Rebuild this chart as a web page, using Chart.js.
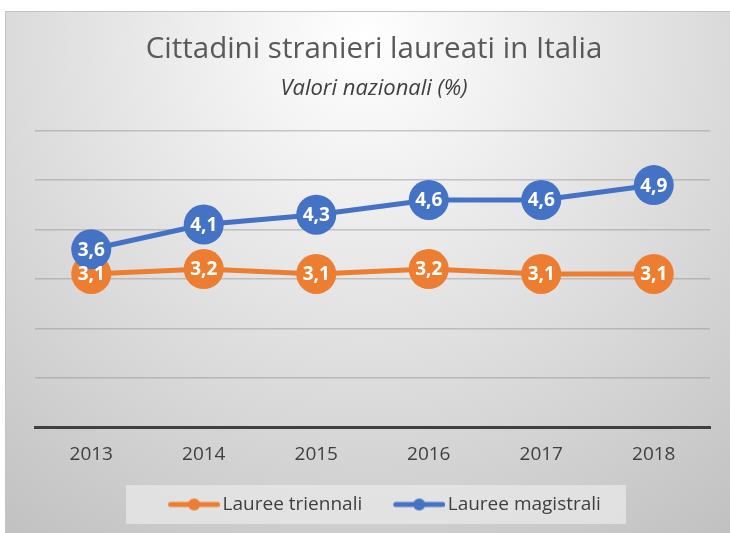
<!DOCTYPE html>
<html><head><meta charset="utf-8">
<script src="https://cdn.jsdelivr.net/npm/chart.js@4"></script>
<style>html,body{margin:0;padding:0;background:#fff;}#c{display:block;}</style>
</head><body>
<canvas id="c" width="730" height="533"></canvas>
<script>
const categories = ['2013', '2014', '2015', '2016', '2017', '2018'];
const laureeTriennali = [3.1, 3.2, 3.1, 3.2, 3.1, 3.1];
const laureeMagistrali = [3.6, 4.1, 4.3, 4.6, 4.6, 4.9];
const seriesNames = ['Lauree triennali', 'Lauree magistrali'];
const yTicks = [0, 1, 2, 3, 4, 5, 6];
const titleText = 'Cittadini stranieri laureati in Italia';
const subtitleText = 'Valori nazionali (%)';

const ORANGE = '#ED7D31';
const BLUE = '#4472C4';
const FONT = '"Open Sans"';

function legendImage(color) {
  const c = document.createElement('canvas');
  c.width = 80; c.height = 14;
  const x = c.getContext('2d');
  x.strokeStyle = color; x.lineWidth = 5; x.lineCap = 'round';
  x.beginPath(); x.moveTo(30.5, 7); x.lineTo(77.5, 7); x.stroke();
  x.fillStyle = color;
  x.beginPath(); x.arc(54, 7, 6, 0, Math.PI * 2); x.fill();
  return c;
}

const backgroundPlugin = {
  id: 'bg',
  beforeDraw(chart) {
    const ctx = chart.ctx;
    const W = chart.width, H = chart.height;
    ctx.save();
    ctx.fillStyle = '#ffffff';
    ctx.fillRect(0, 0, W, H);
    const g = ctx.createRadialGradient(W / 2, 40, 0, W / 2, 40, 650);
    g.addColorStop(0, '#ffffff');
    g.addColorStop(1, '#bdbdbd');
    ctx.fillStyle = g;
    ctx.fillRect(5, 11, W - 5, H - 11);
    ctx.strokeStyle = '#c4c4c4';
    ctx.lineWidth = 1;
    ctx.strokeRect(5.5, 11.5, W, H);
    const lg = chart.legend;
    if (lg && lg.legendHitBoxes && lg.legendHitBoxes.length) {
      const hb = lg.legendHitBoxes;
      const last = hb[hb.length - 1];
      const left = hb[0].left + 21 - 42;
      const right = last.left + last.width + 25;
      ctx.fillStyle = 'rgba(232,232,232,0.75)';
      ctx.fillRect(left, lg.top, right - left, lg.bottom - lg.top);
    }
    ctx.restore();
  }
};

const valueLabels = {
  id: 'valueLabels',
  afterDatasetsDraw(chart) {
    const ctx = chart.ctx;
    ctx.save();
    ctx.font = 'bold 19px ' + FONT;
    ctx.fillStyle = '#ffffff';
    ctx.textAlign = 'center';
    ctx.textBaseline = 'middle';
    chart.data.datasets.forEach((ds, i) => {
      const meta = chart.getDatasetMeta(i);
      meta.data.forEach((pt, j) => {
        ctx.fillText(String(ds.data[j]).replace('.', ','), pt.x, pt.y + 1);
      });
    });
    ctx.restore();
  }
};

function makeChart() {
  const legendImgs = [legendImage(ORANGE), legendImage(BLUE)];
  new Chart(document.getElementById('c'), {
    type: 'line',
    data: {
      labels: categories,
      datasets: [
        {
          label: seriesNames[0], data: laureeTriennali, order: 1,
          borderColor: ORANGE, backgroundColor: ORANGE, borderWidth: 5,
          pointRadius: 20, pointHoverRadius: 20, pointBorderWidth: 0,
          pointBackgroundColor: ORANGE, tension: 0
        },
        {
          label: seriesNames[1], data: laureeMagistrali, order: 0,
          borderColor: BLUE, backgroundColor: BLUE, borderWidth: 5,
          pointRadius: 20, pointHoverRadius: 20, pointBorderWidth: 0,
          pointBackgroundColor: BLUE, tension: 0
        }
      ]
    },
    options: {
      responsive: false,
      animation: false,
      devicePixelRatio: 1,
      events: [],
      layout: { padding: { top: 0, left: 35, right: 17, bottom: 9 } },
      plugins: {
        title: {
          display: true, text: titleText, color: '#595959',
          font: { family: FONT, size: 29.5, weight: 'normal' },
          padding: { top: 32, bottom: 5 }
        },
        subtitle: {
          display: true, text: subtitleText, color: '#404040',
          font: { family: FONT, size: 22, style: 'italic' },
          padding: { top: 3, bottom: 29 }
        },
        legend: {
          position: 'bottom',
          labels: {
            usePointStyle: true, pointStyleWidth: 66, boxHeight: 14,
            padding: 10, color: '#404040',
            font: { family: FONT, size: 19 },
            generateLabels(chart) {
              return chart.data.datasets.map((ds, i) => ({
                text: ds.label, datasetIndex: i, pointStyle: legendImgs[i],
                fillStyle: ds.borderColor, strokeStyle: ds.borderColor,
                lineWidth: 0, hidden: false, fontColor: '#404040'
              }));
            }
          }
        },
        tooltip: { enabled: false }
      },
      scales: {
        x: {
          offset: true,
          grid: { display: false, drawTicks: false, offset: true },
          border: { display: true, color: '#404040', width: 3 },
          ticks: { color: '#404040', font: { family: FONT, size: 19 }, padding: 16 },
          afterFit(s) { s.height = 58; }
        },
        y: {
          min: 0, max: 6,
          afterBuildTicks(s) { s.ticks = yTicks.map(v => ({ value: v })); },
          grid: { color: 'rgba(150,150,150,0.5)', lineWidth: 1.5, drawTicks: false },
          border: { display: false },
          ticks: { display: false }
        }
      }
    },
    plugins: [backgroundPlugin, valueLabels]
  });
}

Promise.all([
  document.fonts.load('29px "Open Sans"'),
  document.fonts.load('italic 22px "Open Sans"'),
  document.fonts.load('bold 19px "Open Sans"')
]).catch(() => {}).then(makeChart);
</script>
</body></html>
